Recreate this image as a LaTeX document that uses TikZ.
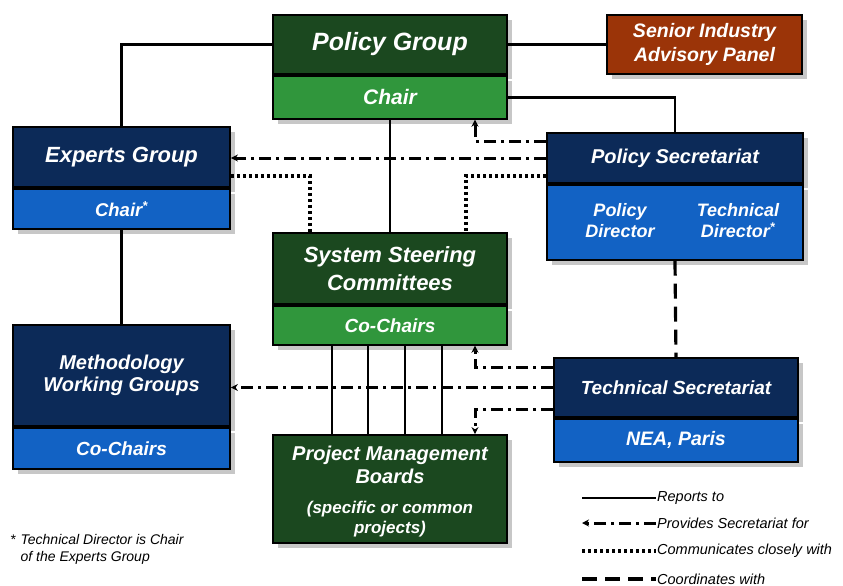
\documentclass[tikz,border=0pt]{standalone}
\usepackage{fontspec}
\setmainfont{Liberation Sans}
\usetikzlibrary{positioning,shadows,arrows.meta}

\definecolor{darkgreen}{RGB}{27,72,31}
\definecolor{lightgreen}{RGB}{48,150,60}
\definecolor{navy}{RGB}{12,42,88}
\definecolor{midblue}{RGB}{18,98,196}
\definecolor{rust}{RGB}{155,52,8}

\newcommand{\boxfont}[2]{\bfseries\itshape\fontsize{#1}{#2}\selectfont}

\begin{document}
\begin{tikzpicture}[x=1pt, y=-1pt, every node/.style={align=center}]
\tikzset{
  box/.style={draw=black, line width=1.8pt, text=white, inner sep=0pt, drop shadow={shadow xshift=5pt, shadow yshift=-5pt, fill=black!22, opacity=1}},
  headgreen/.style={box, fill=darkgreen},
  footgreen/.style={box, fill=lightgreen},
  headblue/.style={box, fill=navy},
  footblue/.style={box, fill=midblue},
  panel/.style={box, fill=rust},
  inner/.style={text=white, inner sep=0pt},
  report/.style={line width=2.4pt},
  secretariat/.style={-{Stealth[length=7pt,width=7pt]}, line width=3pt, dash pattern=on 12pt off 5pt on 3pt off 5pt},
  closely/.style={line width=3.2pt, dash pattern=on 2.8pt off 3.2pt},
  coordinates/.style={line width=3.2pt, dash pattern=on 15pt off 8pt},
  keytext/.style={font=\itshape\fontsize{14.5}{16}\selectfont, anchor=west, inner sep=1pt}
}
\useasboundingbox (0,0) rectangle (843,586);

% boxes
\node[headgreen, minimum width=234pt, minimum height=59pt, font=\boxfont{25}{28}] (policyGroup) at (390,44.5) {Policy Group};
\node[footgreen, minimum width=234pt, minimum height=43pt, below=0pt of policyGroup, font=\boxfont{21}{24}] (policyChair) {Chair};
\node[panel, minimum width=195pt, minimum height=59pt, font=\boxfont{19.5}{24}] (seniorPanel) at (704.5,44.5) {Senior Industry\\Advisory Panel};

\node[headblue, minimum width=217pt, minimum height=60pt, font=\boxfont{22}{25}] (expertsGroup) at (121.5,157) {Experts Group};
\node[footblue, minimum width=217pt, minimum height=40pt, below=0pt of expertsGroup, font=\boxfont{18.5}{22}] (expertsChair) {Chair\textsuperscript{*}};

\node[headblue, minimum width=256pt, minimum height=50pt, font=\boxfont{20}{24}] (policySec) at (675,158) {Policy Secretariat};
\node[footblue, minimum width=256pt, minimum height=75pt, below=0pt of policySec] (policySecDirs) {};
\node[inner, font=\boxfont{18}{21}] (policyDir) at (620,221) {Policy\\Director};
\node[inner, font=\boxfont{18}{21}] (techDir) at (738,221) {Technical\\Director\textsuperscript{*}};

\node[headgreen, minimum width=234pt, minimum height=71pt, font=\boxfont{22}{28}] (systemSteering) at (390,268.5) {System Steering\\Committees};
\node[footgreen, minimum width=234pt, minimum height=39pt, below=0pt of systemSteering, font=\boxfont{19}{22}] (steeringChairs) {Co-Chairs};

\node[headgreen, minimum width=234pt, minimum height=108pt] (projectBoards) at (390,489) {};
\node[inner, font=\boxfont{20}{23}] (boardsTitle) at (390,464.5) {Project Management\\Boards};
\node[inner, font=\boxfont{17}{20}] (boardsNote) at (390,519) {(specific or common\\projects)};

\node[headblue, minimum width=217pt, minimum height=101pt, font=\boxfont{20}{22}] (methodGroups) at (121.5,375.5) {Methodology\\Working Groups};
\node[footblue, minimum width=217pt, minimum height=41pt, below=0pt of methodGroups, font=\boxfont{19}{22}] (methodChairs) {Co-Chairs};

\node[headblue, minimum width=244pt, minimum height=59pt, font=\boxfont{19}{22}] (techSec) at (676,387.5) {Technical Secretariat};
\node[footblue, minimum width=244pt, minimum height=43pt, below=0pt of techSec, font=\boxfont{19.5}{22}] (techSecSeat) {NEA, Paris};

% reporting lines
\draw[report] (expertsGroup.north) |- (policyGroup.west);
\draw[report] (policyGroup.east) -- (seniorPanel.west);
\draw[report] (policyChair.east) -| (policySec.north);
\draw[report] (policyChair.south) -- (systemSteering.north);
\draw[report] (expertsChair.south) -- (methodGroups.north);
\foreach \dx in {-58,-22,15,52}
  \draw[report] ([xshift=\dx pt]steeringChairs.south) -- ([xshift=\dx pt]projectBoards.north);

% secretariat support
\draw[secretariat] ([yshift=17pt]policySec.west) -| ([xshift=85pt]policyChair.south);
\draw[secretariat] (policySec.west) -- (policySec.west -| expertsGroup.east);
\draw[secretariat] ([yshift=20pt]techSec.west) -| ([xshift=85pt]steeringChairs.south);
\draw[secretariat] (techSec.west) -- (techSec.west -| methodGroups.east);
\draw[secretariat] ([yshift=-22pt]techSec.west) -| ([xshift=85pt]projectBoards.north);

% close communication
\draw[closely] ([yshift=-18pt]policySec.west) -| ([xshift=76pt]systemSteering.north);
\draw[closely] ([yshift=-19pt]expertsGroup.east) -| ([xshift=-80pt]systemSteering.north);

% coordination
\draw[coordinates] (policySecDirs.south) -- (techSec.north);

% key
\node[keytext] (keyReports) at (656,498) {Reports to};
\node[keytext] (keySecretariat) at (656,523) {Provides Secretariat for};
\node[keytext] (keyClosely) at (656,551) {Communicates closely with};
\node[keytext] (keyCoord) at (656,579) {Coordinates with};
\coordinate (keyReportsEnd) at (582,498);
\coordinate (keySecretariatEnd) at (582,523);
\coordinate (keyCloselyEnd) at (582,551);
\coordinate (keyCoordEnd) at (582,579);
\draw[report] (keyReportsEnd) -- (keyReports.west);
\draw[secretariat] (keySecretariat.west) -- (keySecretariatEnd);
\draw[closely] (keyCloselyEnd) -- (keyClosely.west);
\draw[coordinates] (keyCoordEnd) -- (keyCoord.west);

\node[font=\itshape\fontsize{14}{17}\selectfont, anchor=north west, inner sep=0pt] (footNote) at (10,532)
  {\begin{tabular}{@{}l@{\hspace{5pt}}l@{}}*&Technical Director is Chair\\&of the Experts Group\end{tabular}};
\end{tikzpicture}
\end{document}
